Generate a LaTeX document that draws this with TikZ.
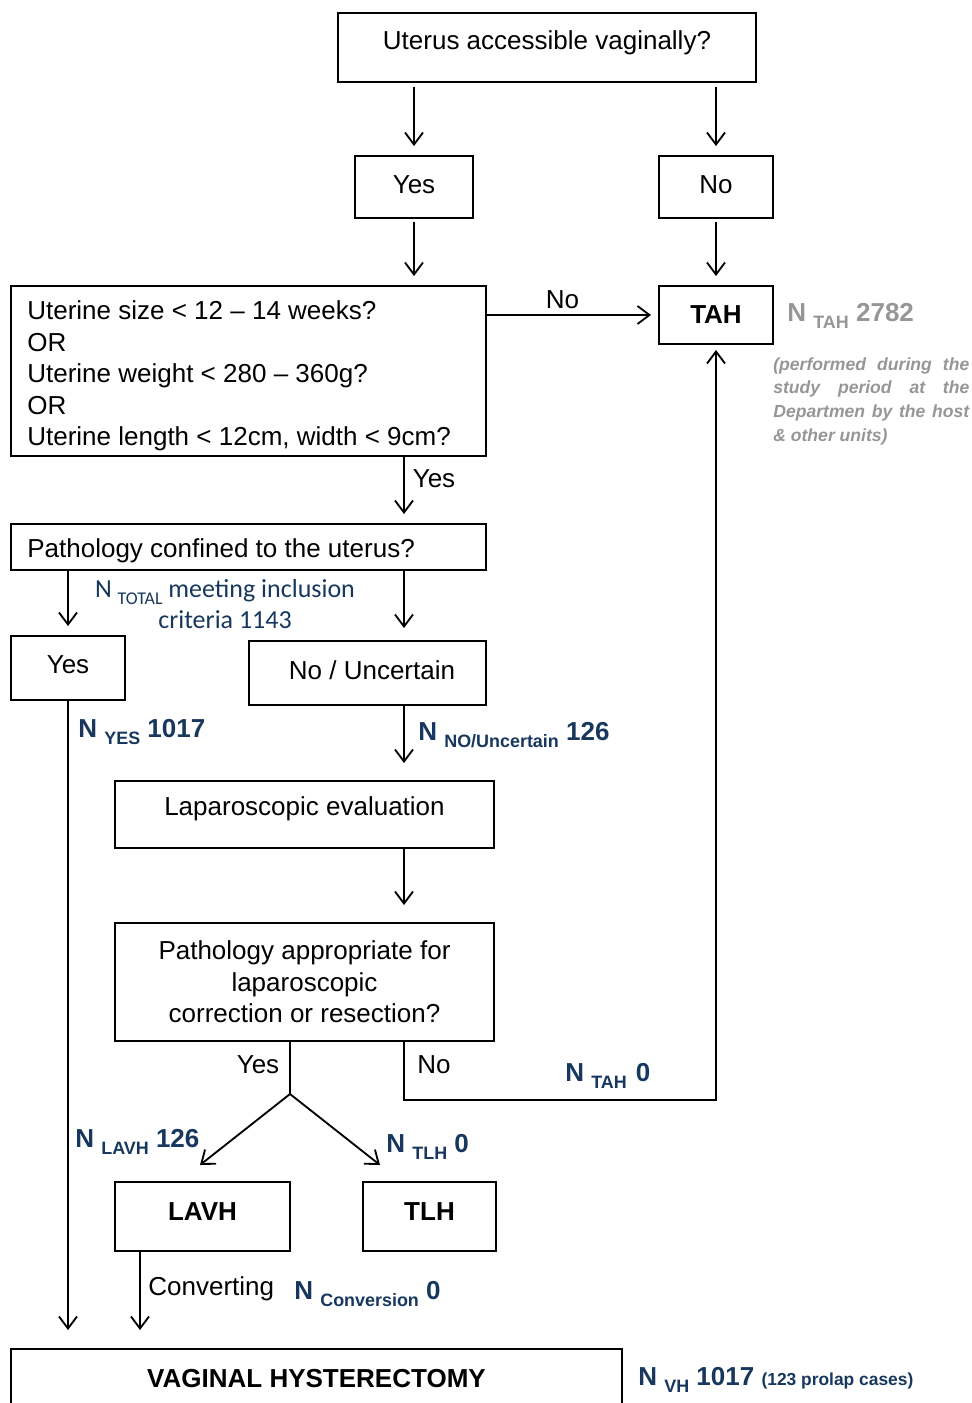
\documentclass[tikz,border=0pt]{standalone}
\usepackage{fontspec}
\setmainfont{Liberation Sans}
\newfontfamily\calibri{Carlito}
\usepackage{tikz}
\usetikzlibrary{arrows.meta,positioning,calc}
\definecolor{nblue}{RGB}{23,55,94}
\definecolor{ngray}{RGB}{150,150,150}
\newcommand{\fs}{\fontsize{14.8}{18}\selectfont}
\newcommand{\Nsub}[2]{N \raisebox{-4pt}{\fontsize{10.2}{12}\selectfont #1} #2}
\tikzstyle{box} = [rectangle, draw, line width=0.95pt, inner sep=0pt, outer sep=0pt]
\tikzstyle{txt} = [inner sep=0pt, font=\fs, yshift=-1.7pt]
\tikzstyle{nlab} = [inner sep=0pt, anchor=base west, font=\fs\bfseries, text=nblue]
\tikzstyle{arrow} = [line width=1.05pt, -{Straight Barb[length=2.4mm,width=3.6mm]}]

\begin{document}
\begin{tikzpicture}[x=0.02cm, y=-0.02cm]
    \useasboundingbox (0,0) rectangle (971,1403);
    \clip (0,0) rectangle (971,1403);

    % Columns and bends of the connectors
    \coordinate (colL) at (68,0);
    \coordinate (colC) at (140,0);
    \coordinate (colR) at (404,0);
    \coordinate (split) at (290,1094);
    \coordinate (noturn) at (716,1100);
    \coordinate (lavhin) at (200,1165);
    \coordinate (tlhin) at (380,1165);

    % Accessible?
    \node[box, minimum width=8.36cm, minimum height=1.38cm] (access) at (547,47.5) {};
    \node[txt] (accesstxt) at (547,40) {Uterus accessible vaginally?};

    \node[box, minimum width=2.36cm, minimum height=1.24cm] (yes1) at (414,187) {};
    \node[txt] (yes1txt) at (414,182) {Yes};
    \node[box, minimum width=2.28cm, minimum height=1.24cm] (no1) at (716,187) {};
    \node[txt] (no1txt) at (716,182) {No};

    % Size criteria
    \node[box, minimum width=9.5cm, minimum height=3.4cm] (size) at (248.5,371) {};
    \node[txt, anchor=west, align=left] (sizetxt) at (27,373) {Uterine size < 12 -- 14 weeks?\\OR\\Uterine weight < 280 -- 360g?\\OR\\Uterine length < 12cm, width < 9cm?};

    % TAH
    \node[box, minimum width=2.28cm, minimum height=1.16cm] (tah) at (716,315) {};
    \node[txt, font=\fs\bfseries] (tahtxt) at (716,312) {TAH};
    \node[nlab, text=ngray] (ntah) at (787,321) {\Nsub{TAH}{2782}};
    \node[anchor=north west, inner sep=0pt, text=ngray, align=left,
          font=\fontsize{10}{13.6}\selectfont\bfseries\itshape] (tahnote) at (773,357)
          {\makebox[3.92cm][s]{(performed during the}\\\makebox[3.92cm][s]{study period at the}\\\makebox[3.92cm][s]{Departmen by the host}\\\& other units)};

    % Pathology confined?
    \node[box, minimum width=9.5cm, minimum height=0.92cm] (conf) at (248.5,547) {};
    \node[txt, anchor=west] (conftxt) at (27,548) {Pathology confined to the uterus?};
    \node[inner sep=0pt, text=nblue, font=\calibri\fs, align=center] (ntotal) at (225,604)
          {N \raisebox{-4pt}{\fontsize{10.2}{12}\selectfont TOTAL} meeting inclusion\\criteria 1143};

    \node[box, minimum width=2.28cm, minimum height=1.28cm] (yes2) at (68,668) {};
    \node[txt] (yes2txt) at (68,662) {Yes};
    \node[box, minimum width=4.74cm, minimum height=1.28cm] (nounc) at (367.5,673) {};
    \node[txt] (nounctxt) at (372,667) {No / Uncertain};
    \node[nlab] (nyes) at (78,737) {\Nsub{YES}{1017}};
    \node[nlab] (nnounc) at (418,740) {\Nsub{NO/Uncertain}{126}};

    % Laparoscopy
    \node[box, minimum width=7.58cm, minimum height=1.34cm] (lapeval) at (304.5,814.5) {};
    \node[txt] (lapevaltxt) at (304.5,806) {Laparoscopic evaluation};
    \node[box, minimum width=7.58cm, minimum height=2.36cm] (lapapp) at (304.5,982) {};
    \node[txt, align=center] (lapapptxt) at (304.5,979) {Pathology appropriate for\\laparoscopic\\correction or resection?};
    \node[txt] (yes3txt) at (258,1062) {Yes};
    \node[txt] (no3txt) at (434,1062) {No};
    \node[nlab] (ntah0) at (565,1081) {\Nsub{TAH}{\hspace{1pt}0}};

    % LAVH / TLH
    \node[box, minimum width=3.5cm, minimum height=1.38cm] (lavh) at (202.5,1216.5) {};
    \node[txt, font=\fs\bfseries] (lavhtxt) at (202.5,1209) {LAVH};
    \node[box, minimum width=2.66cm, minimum height=1.38cm] (tlh) at (429.5,1216.5) {};
    \node[txt, font=\fs\bfseries] (tlhtxt) at (429.5,1209) {TLH};
    \node[nlab] (nlavh) at (75,1147) {\Nsub{LAVH}{126}};
    \node[nlab] (ntlh) at (386,1152) {\Nsub{TLH}{0}};
    \node[txt, anchor=west] (convtxt) at (148,1286) {Converting};
    \node[nlab] (nconv) at (294,1299) {\Nsub{Conversion}{0}};

    % Vaginal hysterectomy
    \node[box, minimum width=12.22cm, minimum height=1.64cm] (vh) at (316.5,1390) {};
    \node[txt, font=\fs\bfseries] (vhtxt) at (316.5,1376) {VAGINAL HYSTERECTOMY};
    \node[nlab] (nvh) at (638,1385) {\Nsub{VH}{1017} {\fontsize{9.9}{12}\selectfont (123 prolap cases)}};

    % Connectors
    \draw[arrow, shorten <=0.1cm, shorten >=0.2cm] (access.south -| yes1) -- (yes1.north);
    \draw[arrow, shorten <=0.1cm, shorten >=0.2cm] (access.south -| no1) -- (no1.north);
    \draw[arrow, shorten <=0.08cm, shorten >=0.2cm] (yes1.south) -- (yes1.south |- size.north);
    \draw[arrow, shorten <=0.08cm, shorten >=0.2cm] (no1.south) -- (tah.north);
    \draw[arrow, shorten >=0.16cm] (size.east |- tah) -- node[txt, above=5pt, xshift=-0.2cm] (notxt) {No} (tah.west);
    \draw[arrow, shorten >=0.2cm] (size.south -| colR) -- (conf.north -| colR);
    \node[txt] (yesszt) at (434,476) {Yes};
    \draw[arrow, shorten >=0.2cm] (conf.south -| colL) -- (yes2.north -| colL);
    \draw[arrow, shorten >=0.26cm] (conf.south -| colR) -- (nounc.north -| colR);
    \draw[arrow, shorten >=0.38cm] (yes2.south -| colL) -- (vh.north -| colL);
    \draw[arrow, shorten >=0.36cm] (nounc.south -| colR) -- (lapeval.north -| colR);
    \draw[arrow, shorten >=0.36cm] (lapeval.south -| colR) -- (lapapp.north -| colR);
    \draw[line width=1.05pt] (lapapp.south -| split) -- (split);
    \draw[arrow] (split) -- (lavhin);
    \draw[arrow] (split) -- (tlhin);
    \draw[arrow, shorten >=0.12cm] (lapapp.south -| colR) |- (noturn) -- (tah.south);
    \draw[arrow, shorten >=0.38cm] (lavh.south -| colC) -- (vh.north -| colC);
\end{tikzpicture}
\end{document}
